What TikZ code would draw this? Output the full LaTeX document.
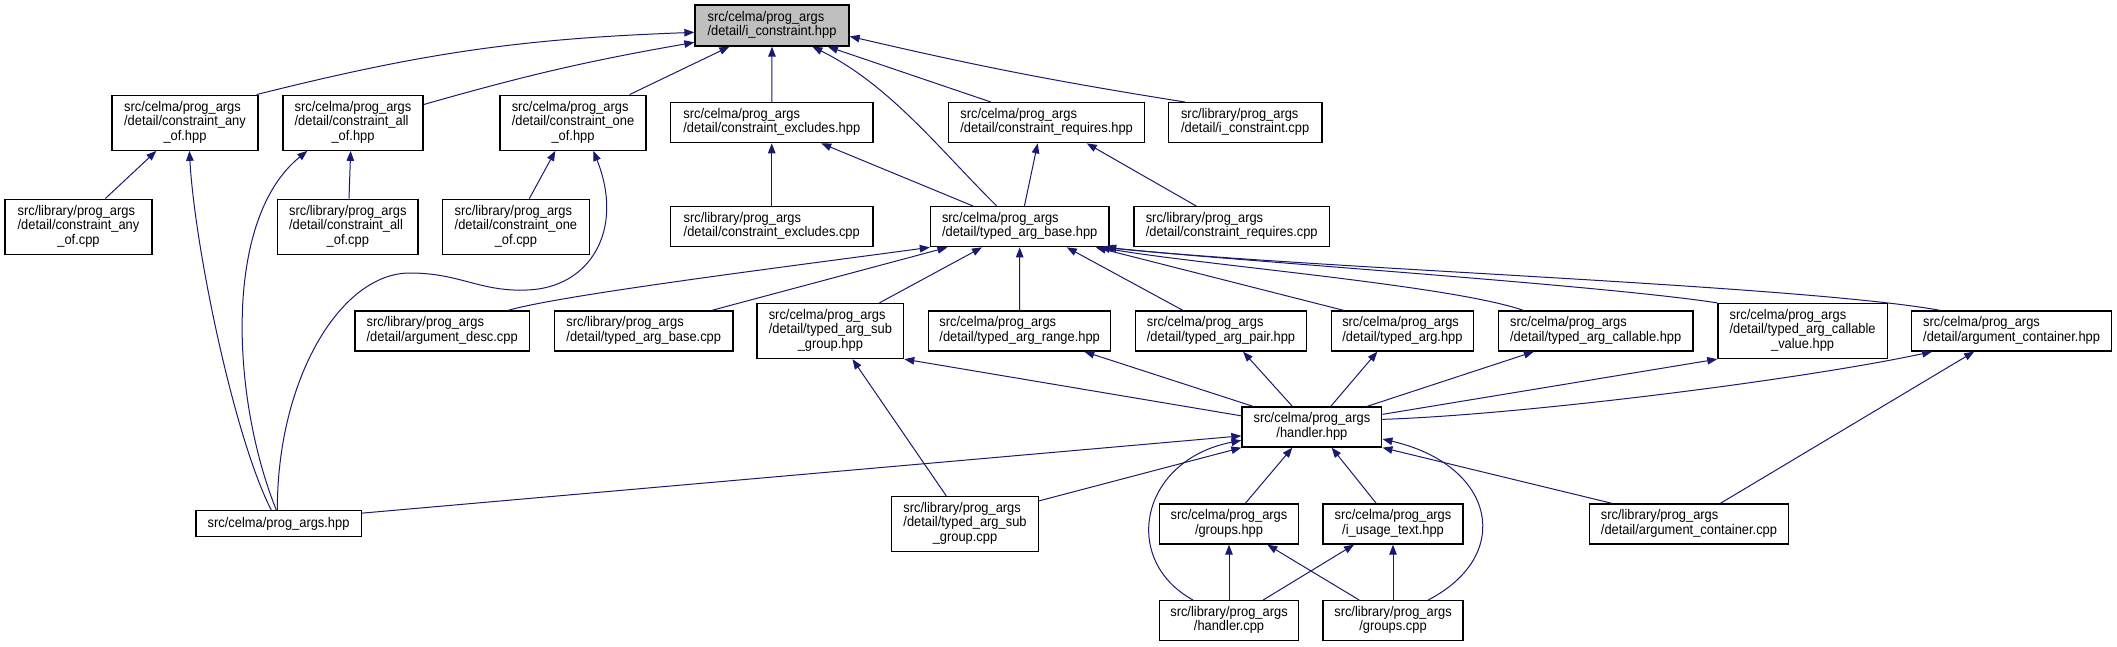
\documentclass[tikz,border=0pt]{standalone}
\usepackage{fontspec}
\setmainfont{Liberation Sans}[FakeStretch=0.92]
\usetikzlibrary{arrows.meta}
\definecolor{edgeblue}{HTML}{191970}
\definecolor{focusgray}{HTML}{BFBFBF}
\newcommand\lastln[1]{\multicolumn{1}{@{}c@{}}{#1}}
\newcommand\dlabel[1]{\begin{tabular}{@{}l@{}}#1\end{tabular}}
\begin{document}
\begin{tikzpicture}[x=1pt,y=-1pt,
  dbox/.style={draw=black, line width=1.3pt, fill=white, inner sep=0pt,
    font=\fontsize{14}{14.3}\selectfont},
  dep/.style={draw=edgeblue, line width=1pt, -{Triangle[length=10pt,width=7.5pt]}}]
\useasboundingbox (0,0) rectangle (2117,647);
% row 1
\node[dbox, fill=focusgray, minimum width=154pt, minimum height=41pt] (ic) at (772,25.5) {\dlabel{src/celma/prog\_args\\\lastln{/detail/i\_constraint.hpp}}};
% row 2
\node[dbox, minimum width=146pt, minimum height=55pt] (anyhpp) at (185,122.7) {\dlabel{src/celma/prog\_args\\/detail/constraint\_any\\\lastln{\_of.hpp}}};
\node[dbox, minimum width=140pt, minimum height=55pt] (allhpp) at (353,122.7) {\dlabel{src/celma/prog\_args\\/detail/constraint\_all\\\lastln{\_of.hpp}}};
\node[dbox, minimum width=146pt, minimum height=55pt] (onehpp) at (573,122.7) {\dlabel{src/celma/prog\_args\\/detail/constraint\_one\\\lastln{\_of.hpp}}};
\node[dbox, minimum width=202.5pt, minimum height=40pt] (exhpp) at (771.75,122.7) {\dlabel{src/celma/prog\_args\\\lastln{/detail/constraint\_excludes.hpp}}};
\node[dbox, minimum width=196pt, minimum height=40pt] (reqhpp) at (1046.6,122.7) {\dlabel{src/celma/prog\_args\\\lastln{/detail/constraint\_requires.hpp}}};
\node[dbox, minimum width=153.6pt, minimum height=40pt] (iccpp) at (1245.1,122.7) {\dlabel{src/library/prog\_args\\\lastln{/detail/i\_constraint.cpp}}};
% row 3
\node[dbox, minimum width=147pt, minimum height=55pt] (anycpp) at (78.5,226.7) {\dlabel{src/library/prog\_args\\/detail/constraint\_any\\\lastln{\_of.cpp}}};
\node[dbox, minimum width=140.3pt, minimum height=55pt] (allcpp) at (347.8,226.7) {\dlabel{src/library/prog\_args\\/detail/constraint\_all\\\lastln{\_of.cpp}}};
\node[dbox, minimum width=147pt, minimum height=55pt] (onecpp) at (515.9,226.7) {\dlabel{src/library/prog\_args\\/detail/constraint\_one\\\lastln{\_of.cpp}}};
\node[dbox, minimum width=202.5pt, minimum height=40pt] (excpp) at (771.75,226.7) {\dlabel{src/library/prog\_args\\\lastln{/detail/constraint\_excludes.cpp}}};
\node[dbox, minimum width=178.5pt, minimum height=40pt] (tab) at (1019.7,226.7) {\dlabel{src/celma/prog\_args\\\lastln{/detail/typed\_arg\_base.hpp}}};
\node[dbox, minimum width=195.6pt, minimum height=40pt] (reqcpp) at (1231.7,226.7) {\dlabel{src/library/prog\_args\\\lastln{/detail/constraint\_requires.cpp}}};
% row 4
\node[dbox, minimum width=174.6pt, minimum height=40pt] (argdesc) at (442.2,331) {\dlabel{src/library/prog\_args\\\lastln{/detail/argument\_desc.cpp}}};
\node[dbox, minimum width=178.5pt, minimum height=40pt] (tabcpp) at (643.75,331) {\dlabel{src/library/prog\_args\\\lastln{/detail/typed\_arg\_base.cpp}}};
\node[dbox, minimum width=146.5pt, minimum height=55pt] (sghpp) at (830.35,331) {\dlabel{src/celma/prog\_args\\/detail/typed\_arg\_sub\\\lastln{\_group.hpp}}};
\node[dbox, minimum width=182.1pt, minimum height=40pt] (range) at (1019.65,331) {\dlabel{src/celma/prog\_args\\\lastln{/detail/typed\_arg\_range.hpp}}};
\node[dbox, minimum width=170.6pt, minimum height=40pt] (pair) at (1221,331) {\dlabel{src/celma/prog\_args\\\lastln{/detail/typed\_arg\_pair.hpp}}};
\node[dbox, minimum width=142.2pt, minimum height=40pt] (typedarg) at (1402.4,331) {\dlabel{src/celma/prog\_args\\\lastln{/detail/typed\_arg.hpp}}};
\node[dbox, minimum width=194.4pt, minimum height=40pt] (callable) at (1595.7,331) {\dlabel{src/celma/prog\_args\\\lastln{/detail/typed\_arg\_callable.hpp}}};
\node[dbox, minimum width=169.4pt, minimum height=55pt] (callval) at (1802.6,331) {\dlabel{src/celma/prog\_args\\/detail/typed\_arg\_callable\\\lastln{\_value.hpp}}};
\node[dbox, minimum width=199.6pt, minimum height=40pt] (argconthpp) at (2011.6,331) {\dlabel{src/celma/prog\_args\\\lastln{/detail/argument\_container.hpp}}};
% row 5
\node[dbox, minimum width=139.8pt, minimum height=40pt] (handler) at (1311.9,427) {\dlabel{src/celma/prog\_args\\\lastln{/handler.hpp}}};
% row 6
\node[dbox, minimum width=165.2pt, minimum height=26pt] (pa) at (278.6,523.8) {src/celma/prog\_args.hpp};
\node[dbox, minimum width=147pt, minimum height=55pt] (sgcpp) at (965,524) {\dlabel{src/library/prog\_args\\/detail/typed\_arg\_sub\\\lastln{\_group.cpp}}};
\node[dbox, minimum width=139.3pt, minimum height=40pt] (groupshpp) at (1229,524) {\dlabel{src/celma/prog\_args\\\lastln{/groups.hpp}}};
\node[dbox, minimum width=140.2pt, minimum height=40pt] (iusage) at (1393,524) {\dlabel{src/celma/prog\_args\\\lastln{/i\_usage\_text.hpp}}};
\node[dbox, minimum width=199.6pt, minimum height=40pt] (argcontcpp) at (1689,524) {\dlabel{src/library/prog\_args\\\lastln{/detail/argument\_container.cpp}}};
% row 7
\node[dbox, minimum width=139.3pt, minimum height=40pt] (handlercpp) at (1229,620.7) {\dlabel{src/library/prog\_args\\\lastln{/handler.cpp}}};
\node[dbox, minimum width=140.2pt, minimum height=40pt] (groupscpp) at (1393,620.7) {\dlabel{src/library/prog\_args\\\lastln{/groups.cpp}}};

% edges into i_constraint.hpp
\draw[dep] ([xshift=-2pt]anyhpp.north east) to[bend left=6] ([yshift=-28pt]ic.north west);
\draw[dep] ([yshift=-10pt]allhpp.north east) to[bend left=3] ([yshift=-38pt]ic.north west);
\draw[dep] ([xshift=-17pt]onehpp.north east) -- ([xshift=35pt]ic.south west);
\draw[dep] (exhpp.north) -- (ic.south);
\draw[dep] ([xshift=67pt]tab.north west) .. controls (940,150) and (890,85) .. ([xshift=118pt]ic.south west);
\draw[dep] ([xshift=43pt]reqhpp.north west) -- ([xshift=133.5pt]ic.south west);
\draw[dep] ([xshift=17.4pt]iccpp.north west) to[bend left=2] ([yshift=-32pt]ic.north east);
% constraint any/all/one
\draw[dep] ([xshift=101pt]anycpp.north west) -- ([xshift=45pt]anyhpp.south west);
\draw[dep] ([xshift=76pt]pa.north west) .. controls (235,440) and (195,250) .. ([xshift=78pt]anyhpp.south west);
\draw[dep] ([xshift=72pt]allcpp.north west) -- ([xshift=68.3pt]allhpp.south west);
\draw[dep] ([xshift=81pt]pa.north west) .. controls (232,400) and (222,220) .. ([xshift=25pt]allhpp.south west);
\draw[dep] ([xshift=87.6pt]onecpp.north west) -- ([xshift=56pt]onehpp.south west);
\draw[dep] ([xshift=82pt]pa.north west) .. controls (277,380) and (340,273) .. (410,273)
  .. controls (460,273) and (480,292) .. (527,290)
  .. controls (590,288) and (625,230) .. ([xshift=94pt]onehpp.south west);
% excludes / requires
\draw[dep] (excpp.north) -- (exhpp.south);
\draw[dep] ([xshift=43.3pt]tab.north west) -- ([xshift=151.4pt]exhpp.south west);
\draw[dep] ([xshift=94.6pt]tab.north west) -- ([xshift=89.7pt]reqhpp.south west);
\draw[dep] ([xshift=63pt]reqcpp.north west) -- ([xshift=138.8pt]reqhpp.south west);
% into typed_arg_base.hpp
\draw[dep] ([xshift=154pt]argdesc.north west) .. controls (560,295) and (800,265) .. (tab.south west);
\draw[dep] ([xshift=158pt]tabcpp.north west) -- ([xshift=17.6pt]tab.south west);
\draw[dep] ([xshift=123pt]sghpp.north west) -- ([xshift=52.2pt]tab.south west);
\draw[dep] (range.north) -- (tab.south);
\draw[dep] ([xshift=47.8pt]pair.north west) -- ([xshift=137pt]tab.south west);
\draw[dep] ([xshift=13pt]typedarg.north west) -- ([xshift=166pt]tab.south west);
\draw[dep] ([xshift=25.5pt]callable.north west) .. controls (1450,285) and (1200,265) .. ([xshift=170pt]tab.south west);
\draw[dep] (callval.north west) .. controls (1600,285) and (1250,262) .. ([xshift=173.5pt]tab.south west);
\draw[dep] ([xshift=29pt]argconthpp.north west) .. controls (1800,285) and (1300,268) .. ([xshift=176.5pt]tab.south west);
% from handler.hpp
\draw[dep] ([yshift=-9.5pt]handler.north west) -- (sghpp.south east);
\draw[dep] ([xshift=11.7pt]handler.north west) -- ([xshift=156.4pt]range.south west);
\draw[dep] ([xshift=51pt]handler.north west) -- ([xshift=108pt]pair.south west);
\draw[dep] ([xshift=89.4pt]handler.north west) -- ([xshift=46.7pt]typedarg.south west);
\draw[dep] ([xshift=125.7pt]handler.north west) -- ([xshift=36pt]callable.south west);
\draw[dep] ([yshift=-8pt]handler.north east) -- (callval.south west);
\draw[dep] ([yshift=-13pt]handler.north east) .. controls (1520,415) and (1800,380) .. ([xshift=21pt]argconthpp.south west);
\draw[dep] ([xshift=131.8pt]argcontcpp.north west) -- ([xshift=63pt]argconthpp.south west);
% into handler.hpp
\draw[dep] ([yshift=-3pt]pa.north east) -- ([yshift=-29.5pt]handler.north west);
\draw[dep] ([yshift=-5pt]sgcpp.north east) -- (handler.south west);
\draw[dep] ([xshift=55.4pt]sgcpp.north west) -- ([xshift=96pt]sghpp.south west);
\draw[dep] ([xshift=34.4pt]handlercpp.north west) .. controls (1120,560) and (1140,460) .. ([yshift=-34pt]handler.north west);
\draw[dep] ([xshift=86.6pt]groupshpp.north west) -- ([xshift=51pt]handler.south west);
\draw[dep] ([xshift=54pt]iusage.north west) -- ([xshift=90.3pt]handler.south west);
\draw[dep] ([xshift=105.8pt]groupscpp.north west) .. controls (1515,555) and (1495,465) .. ([yshift=-32.7pt]handler.north east);
\draw[dep] ([xshift=23.5pt]argcontcpp.north west) -- (handler.south east);
% groups / usage
\draw[dep] (handlercpp.north) -- (groupshpp.south);
\draw[dep] ([xshift=37pt]groupscpp.north west) -- ([xshift=108.6pt]groupshpp.south west);
\draw[dep] ([xshift=104.4pt]handlercpp.north west) -- ([xshift=31.8pt]iusage.south west);
\draw[dep] (groupscpp.north) -- (iusage.south);
\end{tikzpicture}
\end{document}
